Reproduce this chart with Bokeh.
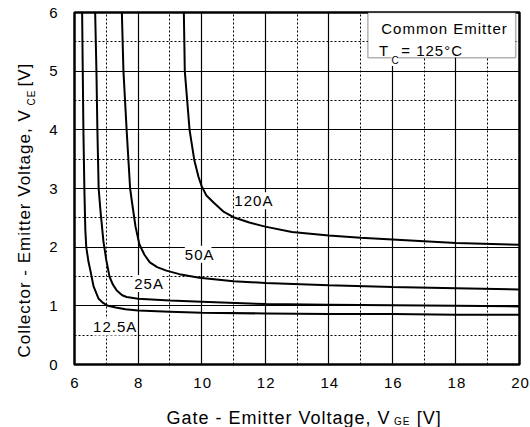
import math
from bokeh.plotting import figure
from bokeh.models import Label, BoxAnnotation, FixedTicker, Range1d
from bokeh.layouts import row, column
from bokeh.embed import file_html
from bokeh.resources import INLINE

# ---- data ----
x_major = [6, 8, 10, 12, 14, 16, 18, 20]
x_minor = [7, 9, 11, 13, 15, 17, 19]
y_major = [0, 1, 2, 3, 4, 5, 6]
y_minor = [0.5, 1.5, 2.5, 3.5, 4.5, 5.5]

vge_12_5A = [6.24, 6.26, 6.28, 6.31, 6.34, 6.37, 6.44, 6.50, 6.60, 6.76, 6.90, 7.05, 7.30, 7.60, 8.0, 9.0, 10.0, 12.0, 14.0, 16.0, 18.0, 20.0]
vce_12_5A = [6.0, 5.0, 4.0, 3.0, 2.3, 2.0, 1.75, 1.6, 1.33, 1.12, 1.05, 1.0, 0.97, 0.94, 0.92, 0.90, 0.88, 0.87, 0.86, 0.86, 0.85, 0.85]

vge_25A = [6.65, 6.69, 6.72, 6.76, 6.82, 6.91, 7.0, 7.1, 7.2, 7.33, 7.5, 7.64, 8.0, 9.0, 10.0, 12.0, 14.0, 16.0, 18.0, 20.0]
vce_25A = [6.0, 5.0, 4.0, 3.0, 2.6, 2.1, 1.78, 1.5, 1.37, 1.26, 1.18, 1.15, 1.12, 1.09, 1.07, 1.03, 1.02, 1.01, 1.0, 0.99]

vge_50A = [7.49, 7.54, 7.64, 7.75, 7.80, 7.92, 8.04, 8.2, 8.37, 8.6, 8.89, 9.3, 9.93, 11.0, 12.0, 14.0, 16.0, 18.0, 20.0]
vce_50A = [6.0, 5.0, 4.0, 3.0, 2.8, 2.35, 2.05, 1.87, 1.74, 1.66, 1.6, 1.54, 1.48, 1.42, 1.39, 1.35, 1.32, 1.30, 1.28]

vge_120A = [9.44, 9.47, 9.62, 9.77, 9.90, 10.0, 10.15, 10.4, 10.7, 11.0, 11.5, 12.0, 12.84, 14.0, 15.0, 16.0, 18.0, 20.0]
vce_120A = [6.0, 5.0, 4.0, 3.48, 3.2, 3.04, 2.88, 2.75, 2.6, 2.51, 2.42, 2.35, 2.26, 2.20, 2.16, 2.13, 2.07, 2.04]

curve_labels = ["12.5A", "25A", "50A", "120A"]
label_x = [7.20, 8.30, 9.89, 11.58]
label_y = [0.64, 1.38, 1.88, 2.79]

FONT = "Liberation Sans"
SPACING = [":host { letter-spacing: 1px; }"]

# ---- main plot ----
p = figure(width=490, height=398, x_range=Range1d(6, 20), y_range=Range1d(0, 6),
           output_backend="svg", toolbar_location=None, title=None,
           min_border_left=34, min_border_right=11, min_border_top=12, min_border_bottom=34)
p.stylesheets = SPACING
p.background_fill_color = "white"
p.border_fill_color = "white"
p.outline_line_color = "black"
p.outline_line_width = 2.5

p.xaxis.ticker = FixedTicker(ticks=x_major)
p.yaxis.ticker = FixedTicker(ticks=y_major)
for ax in (p.xaxis[0], p.yaxis[0]):
    ax.axis_line_color = None
    ax.major_tick_line_color = None
    ax.minor_tick_line_color = None
    ax.major_label_text_font = FONT
    ax.major_label_text_font_size = "15px"
    ax.major_label_text_color = "black"
    ax.axis_label = None
p.xaxis.major_label_standoff = 7
p.yaxis.major_label_standoff = 11

p.xgrid.ticker = FixedTicker(ticks=x_major, minor_ticks=x_minor)
p.ygrid.ticker = FixedTicker(ticks=y_major, minor_ticks=y_minor)
for g in (p.xgrid[0], p.ygrid[0]):
    g.grid_line_color = "black"
    g.grid_line_width = 1.2
    g.grid_line_alpha = 1
    g.grid_line_dash = "solid"
    g.minor_grid_line_color = "black"
    g.minor_grid_line_width = 1
    g.minor_grid_line_dash = "2 2"

for xs, ys in ((vge_12_5A, vce_12_5A), (vge_25A, vce_25A), (vge_50A, vce_50A), (vge_120A, vce_120A)):
    p.line(xs, ys, line_color="black", line_width=2)

for t, lx, ly in zip(curve_labels, label_x, label_y):
    p.add_layout(Label(x=lx, y=ly, text=t, text_align="center", text_baseline="middle",
                       text_font=FONT, text_font_size="15px", text_color="black",
                       background_fill_color="white"))

# condition box
p.add_layout(BoxAnnotation(left=15.23, right=19.88, bottom=5.23, top=6.0,
                           fill_color="white", fill_alpha=1.0,
                           line_color="black", line_width=1.5))
p.add_layout(Label(x=15.65, y=5.727, text="Common Emitter", text_align="left",
                   text_baseline="alphabetic", text_font=FONT, text_font_size="15px",
                   text_color="black"))
p.add_layout(Label(x=15.58, y=5.357, text="T", text_align="left",
                   text_baseline="alphabetic", text_font=FONT, text_font_size="15px",
                   text_color="black"))
p.add_layout(Label(x=15.97, y=5.182, text="C", text_align="left",
                   text_baseline="alphabetic", text_font=FONT, text_font_size="10px",
                   text_color="black", background_fill_color="white"))
p.add_layout(Label(x=16.28, y=5.357, text="= 125°C", text_align="left",
                   text_baseline="alphabetic", text_font=FONT, text_font_size="15px",
                   text_color="black"))

# ---- x axis title strip: same horizontal frame as the main plot ----
xt = figure(width=490, height=29, x_range=Range1d(6, 20), y_range=Range1d(427, 398),
            x_axis_type=None, y_axis_type=None, output_backend="svg",
            toolbar_location=None, title=None,
            min_border_left=34, min_border_right=11, min_border_top=0, min_border_bottom=0)
xt.stylesheets = SPACING
xt.outline_line_color = None
xt.add_layout(Label(x=8.894, y=417, text="Gate - Emitter Voltage, V", text_align="left",
                    text_baseline="alphabetic", text_font=FONT, text_font_size="18px",
                    text_color="black"))
xt.add_layout(Label(x=16.05, y=421, text="GE", text_align="left",
                    text_baseline="alphabetic", text_font=FONT, text_font_size="10px",
                    text_color="black"))
xt.add_layout(Label(x=16.77, y=417, text="[V]", text_align="left",
                    text_baseline="alphabetic", text_font=FONT, text_font_size="18px",
                    text_color="black"))

# ---- y axis title strip (coordinates = page pixels) ----
yt = figure(width=40, height=427, x_range=Range1d(0, 40), y_range=Range1d(427, 0),
            x_axis_type=None, y_axis_type=None, output_backend="svg",
            toolbar_location=None, title=None, min_border=0)
yt.stylesheets = SPACING
yt.outline_line_color = None
ang = math.pi / 2
yt.add_layout(Label(x=24, y=357, text="Collector - Emitter Voltage, V", angle=ang,
                    text_align="left", text_baseline="alphabetic", text_font=FONT,
                    text_font_size="17px", text_color="black"))
yt.add_layout(Label(x=30.5, y=105, text="CE", angle=ang,
                    text_align="left", text_baseline="alphabetic", text_font=FONT,
                    text_font_size="10px", text_color="black"))
yt.add_layout(Label(x=24, y=86, text="[V]", angle=ang,
                    text_align="left", text_baseline="alphabetic", text_font=FONT,
                    text_font_size="17px", text_color="black"))

layout = row(yt, column(p, xt))
open("out.html", "w").write(file_html(layout, INLINE))
